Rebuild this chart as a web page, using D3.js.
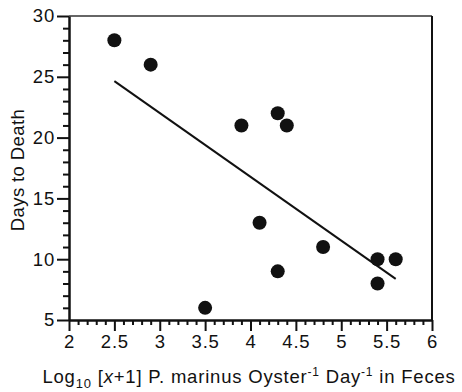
<!DOCTYPE html>
<html><head><meta charset="utf-8">
<script src="https://cdn.jsdelivr.net/npm/d3@7"></script>
<style>body{margin:0;background:#fff}svg{display:block}text{font-family:"Liberation Sans",Arial,sans-serif;fill:#111}</style>
</head><body><svg id="c" width="462" height="392"></svg>
<script>
const xVals = [2.5, 2.9, 3.5, 3.9, 4.1, 4.3, 4.4, 4.3, 4.8, 5.4, 5.4, 5.6];
const yVals = [28, 26, 6, 21, 13, 22, 21, 9, 11, 10, 8, 10];
const xTicks = [2, 2.5, 3, 3.5, 4, 4.5, 5, 5.5, 6];
const yTicks = [5, 10, 15, 20, 25, 30];

const svg = d3.select("#c");
const L = 69, R = 432, T = 16, B = 320;
const x = d3.scaleLinear().domain([2, 6]).range([L, R]);
const y = d3.scaleLinear().domain([5, 30]).range([B, T]);
const ink = "#111";

// frame top/right
svg.append("line").attr("x1", L).attr("x2", R).attr("y1", T).attr("y2", T).attr("stroke", "#333").attr("stroke-width", 1.5);
svg.append("line").attr("x1", R).attr("x2", R).attr("y1", T).attr("y2", B).attr("stroke", ink).attr("stroke-width", 2);

// minor ticks
const xMinor = d3.range(20, 61).map(d => d / 10).filter(d => !xTicks.some(t => Math.abs(t - d) < 1e-9));
const yMinor = d3.range(5, 31).filter(d => !yTicks.includes(d));
const gx = svg.append("g").attr("transform", `translate(0,${B})`);
gx.call(d3.axisBottom(x).tickValues(xMinor).tickSize(5).tickFormat(""));
gx.select(".domain").remove();
const gx2 = svg.append("g").attr("transform", `translate(0,${B})`);
gx2.call(d3.axisBottom(x).tickValues(xTicks).tickSize(11).tickSizeOuter(0).tickPadding(4).tickFormat(d3.format("")));
const gy = svg.append("g").attr("transform", `translate(${L},0)`);
gy.call(d3.axisLeft(y).tickValues(yMinor).tickSize(6).tickFormat(""));
gy.select(".domain").remove();
const gy2 = svg.append("g").attr("transform", `translate(${L},0)`);
gy2.call(d3.axisLeft(y).tickValues(yTicks).tickSize(12).tickSizeOuter(0).tickPadding(2).tickFormat(d3.format("")));
svg.selectAll(".tick line").attr("stroke", ink).attr("stroke-width", 2);
svg.selectAll(".domain").attr("stroke", ink).attr("stroke-width", 2.5);
svg.selectAll(".tick text").attr("font-size", 18.5).attr("letter-spacing", 0.8).attr("fill", ink)
  .attr("font-family", "Liberation Sans, Arial, sans-serif");

// regression line
const n = xVals.length;
const mx = d3.mean(xVals), my = d3.mean(yVals);
let sxy = 0, sxx = 0;
for (let i = 0; i < n; i++) { sxy += (xVals[i] - mx) * (yVals[i] - my); sxx += (xVals[i] - mx) ** 2; }
const slope = sxy / sxx, icpt = my - slope * mx;
const x0 = d3.min(xVals), x1 = d3.max(xVals);
svg.append("line").attr("x1", x(x0)).attr("y1", y(icpt + slope * x0)).attr("x2", x(x1)).attr("y2", y(icpt + slope * x1))
  .attr("stroke", ink).attr("stroke-width", 2);

// points
svg.append("g").selectAll("circle").data(xVals.map((v, i) => [v, yVals[i]])).join("circle")
  .attr("cx", d => x(d[0])).attr("cy", d => y(d[1])).attr("r", 7).attr("fill", ink);

// y title
svg.append("text").attr("transform", `translate(24,${170}) rotate(-90)`).attr("text-anchor", "middle")
  .attr("font-size", 18.5).attr("letter-spacing", 0.4).text("Days to Death");

// x title
const xt = svg.append("text").attr("x", 249).attr("y", 383).attr("text-anchor", "middle").attr("font-size", 18.5).attr("letter-spacing", 0.8);
xt.append("tspan").text("Log");
xt.append("tspan").attr("font-size", 13).attr("dy", 5).text("10");
xt.append("tspan").attr("dy", -5).text(" [");
xt.append("tspan").attr("font-style", "italic").text("x");
xt.append("tspan").text("+1] P. marinus Oyster");
xt.append("tspan").attr("font-size", 12).attr("dy", -7).text("-1");
xt.append("tspan").attr("dy", 7).text(" Day");
xt.append("tspan").attr("font-size", 12).attr("dy", -7).text("-1");
xt.append("tspan").attr("dy", 7).text(" in Feces");
</script></body></html>
